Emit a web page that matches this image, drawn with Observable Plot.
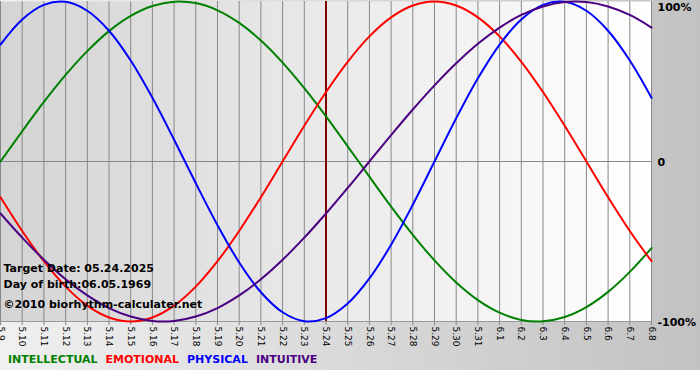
<!DOCTYPE html>
<html><head><meta charset="utf-8">
<script src="https://cdn.jsdelivr.net/npm/d3@7"></script>
<script src="https://cdn.jsdelivr.net/npm/@observablehq/plot@0.6"></script>
<style>
body{margin:0;background:#fff;}
#wrap{position:relative;width:700px;height:370px;background:linear-gradient(to right,#f0f0f0,#c2c2c2);font-family:Verdana,"DejaVu Sans",sans-serif;}
#wrap svg{display:block;background:transparent;}
#legend{position:absolute;left:8px;top:353px;font-weight:bold;font-size:11px;white-space:nowrap;}
#legend span{margin-right:8px}
</style></head><body><div id="wrap"></div>
<script>
const days = ["5.9","5.10","5.11","5.12","5.13","5.14","5.15","5.16","5.17","5.18","5.19","5.20","5.21","5.22","5.23","5.24","5.25","5.26","5.27","5.28","5.29","5.30","5.31","6.1","6.2","6.3","6.4","6.5","6.6","6.7","6.8"];
const targetDay = "5.24";
const intellectual = [0,0.189,0.372,0.541,0.690,0.815,0.910,0.972,0.999,0.990,0.945,0.866,0.756,0.618,0.458,0.282,0.095,-0.095,-0.282,-0.458,-0.618,-0.756,-0.866,-0.945,-0.990,-0.999,-0.972,-0.910,-0.815,-0.690,-0.541];
const emotional = [-0.223,-0.434,-0.623,-0.782,-0.901,-0.975,-1,-0.975,-0.901,-0.782,-0.623,-0.434,-0.223,0,0.223,0.434,0.623,0.782,0.901,0.975,1,0.975,0.901,0.782,0.623,0.434,0.223,0,-0.223,-0.434,-0.623];
const physical = [0.731,0.888,0.979,0.998,0.942,0.817,0.631,0.398,0.136,-0.136,-0.398,-0.631,-0.817,-0.942,-0.998,-0.979,-0.888,-0.731,-0.520,-0.270,0,0.270,0.520,0.731,0.888,0.979,0.998,0.942,0.817,0.631,0.398];
const intuitive = [-0.325,-0.476,-0.614,-0.736,-0.837,-0.916,-0.969,-0.997,-0.997,-0.969,-0.916,-0.837,-0.736,-0.614,-0.476,-0.325,-0.165,0,0.165,0.325,0.476,0.614,0.736,0.837,0.916,0.969,0.997,0.997,0.969,0.916,0.837];
const seriesNames = ["INTELLECTUAL","EMOTIONAL","PHYSICAL","INTUITIVE"];
const seriesColors = ["#008000","#ff0000","#0000ff","#4b0082"];
const yTickValues = [1,0,-1];
const yTickLabels = ["100%","0","-100%"];
const infoLines = ["Target Date: 05.24.2025","Day of birth:06.05.1969","©2010 biorhythm-calculater.net"];

const seriesData = [intellectual, emotional, physical, intuitive];
const rows = [];
seriesData.forEach((arr, s) => arr.forEach((v, i) => rows.push({i, v, s: seriesNames[s]})));
const idx = days.map((d, i) => i);
const targetIndex = days.indexOf(targetDay);
const fmtY = v => yTickLabels[yTickValues.indexOf(v)];

const chart = Plot.plot({
  width: 700, height: 370,
  marginLeft: 0, marginRight: 49, marginTop: 1, marginBottom: 49,
  style: {background: "transparent", fontFamily: "Verdana, 'DejaVu Sans', sans-serif", color: "#000", overflow: "visible"},
  x: {domain: [0, days.length - 1], ticks: idx, tickFormat: i => days[i], tickRotate: 90, tickSize: 0, tickPadding: 5, label: null},
  y: {domain: [-1, 1], axis: null},
  color: {domain: seriesNames, range: seriesColors},
  marks: [
    Plot.frame({fill: "url(#plotbg)", stroke: null}),
    Plot.ruleX(idx, {stroke: "#888", strokeWidth: 1, insetBottom: -4}),
    Plot.ruleY([0], {stroke: "#888"}),
    Plot.ruleY([-1], {stroke: "#999"}),
    Plot.ruleX([targetIndex], {stroke: "#800000", strokeWidth: 2}),
    Plot.line(rows, {x: "i", y: "v", z: "s", stroke: "s", strokeWidth: 2, curve: "catmull-rom"}),
    Plot.text(infoLines.slice(0,1), {frameAnchor: "bottom-left", dx: 3, dy: -50, text: d => d, textAnchor: "start", fontWeight: "bold", fontSize: 11, fill: "#000"}),
    Plot.text(infoLines.slice(1,2), {frameAnchor: "bottom-left", dx: 3, dy: -34, text: d => d, textAnchor: "start", fontWeight: "bold", fontSize: 11, fill: "#000"}),
    Plot.text(infoLines.slice(2,3), {frameAnchor: "bottom-left", dx: 3, dy: -14, text: d => d, textAnchor: "start", fontWeight: "bold", fontSize: 11, fill: "#000"}),
    Plot.text(yTickValues.slice(0,1), {y: d => d, frameAnchor: "right", dx: 6, dy: 6, text: fmtY, textAnchor: "start", fontWeight: "bold", fontSize: 11, fill: "#000"}),
    Plot.text(yTickValues.slice(1), {y: d => d, frameAnchor: "right", dx: 6, dy: 1, text: fmtY, textAnchor: "start", fontWeight: "bold", fontSize: 11, fill: "#000"})
  ]
});

const defs = d3.select(chart).insert("defs", ":first-child");
const g = defs.append("linearGradient").attr("id", "plotbg").attr("x1", "0").attr("x2", "1").attr("y1", "0").attr("y2", "0");
g.append("stop").attr("offset", "0").attr("stop-color", "#d4d4d4");
g.append("stop").attr("offset", "1").attr("stop-color", "#ffffff");
d3.select(chart).selectAll('g[aria-label^="x-axis"] text').attr("font-size", 9);

const wrap = document.getElementById("wrap");
wrap.appendChild(chart);
const legend = document.createElement("div");
legend.id = "legend";
seriesNames.forEach((n, k) => {
  const sp = document.createElement("span");
  sp.textContent = n;
  sp.style.color = seriesColors[k];
  legend.appendChild(sp);
});
wrap.appendChild(legend);
</script></body></html>
